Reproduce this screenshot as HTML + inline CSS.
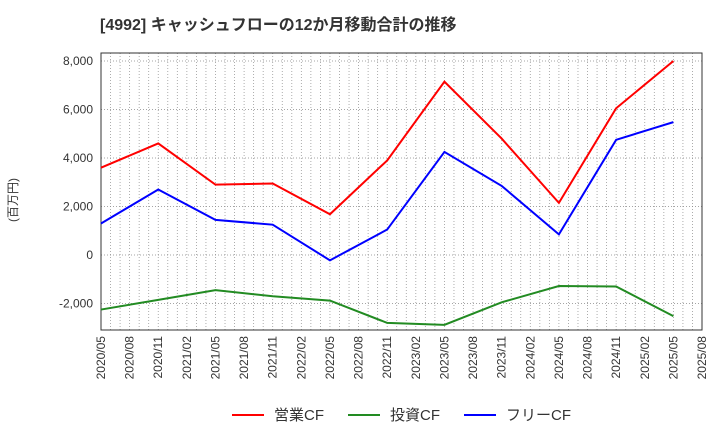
<!DOCTYPE html>
<html><head><meta charset="utf-8"><style>
body{margin:0;background:#fff;font-family:"Liberation Sans","Noto Sans CJK JP",sans-serif}
</style></head><body>
<svg id="c" width="720" height="440" xmlns="http://www.w3.org/2000/svg">
<text x="100" y="30" font-size="16" font-weight="bold" fill="#333">[4992]  キャッシュフローの12か月移動合計の推移</text>
<text transform="translate(17,200) rotate(-90)" font-size="12" fill="#333" text-anchor="middle">(百万円)</text>
<g id="grid"></g><g id="axes"></g><g id="series"></g><g id="legend"></g>
</svg>
<script>
const xTicks=["2020/05","2020/08","2020/11","2021/02","2021/05","2021/08","2021/11","2022/02","2022/05","2022/08","2022/11","2023/02","2023/05","2023/08","2023/11","2024/02","2024/05","2024/08","2024/11","2025/02","2025/05","2025/08"];
const yTicks=[-2000,0,2000,4000,6000,8000];
const periods=["2020/05","2020/11","2021/05","2021/11","2022/05","2022/11","2023/05","2023/11","2024/05","2024/11","2025/05"];
const opCF=[3600,4600,2900,2950,1680,3900,7150,4800,2150,6050,8000];
const invCF=[-2250,-1850,-1450,-1700,-1880,-2800,-2880,-1950,-1280,-1300,-2520];
const freeCF=[1300,2700,1450,1250,-220,1050,4250,2850,850,4750,5480];
const L=101,R=702,T=53,B=330;
const NS="http://www.w3.org/2000/svg";
function mi(p){const [y,m]=p.split("/").map(Number);return (y-2020)*12+(m-5);}
const maxM=mi("2025/08");
function X(p){return L+(R-L)*mi(p)/maxM;}
function XM(m){return L+(R-L)*m/maxM;}
function Y(v){return 255-v*(255-61)/8000;}
function mk(t,a,parent){const e=document.createElementNS(NS,t);for(const k in a)e.setAttribute(k,a[k]);document.getElementById(parent).appendChild(e);return e;}
for(let m=0;m<=maxM;m++){const l=mk("line",{x1:XM(m),x2:XM(m),y1:T,y2:B,stroke:"#999","stroke-width":0.8,"stroke-dasharray":"1,2"},"grid");

}
yTicks.forEach(v=>{const l=mk("line",{x1:L,x2:R,y1:Y(v),y2:Y(v),stroke:"#888","stroke-width":0.8,"stroke-dasharray":"1,2"},"grid");


const t=mk("text",{x:L-8,y:Y(v)+4,"font-size":12,fill:"#333","text-anchor":"end"},"axes");
t.textContent=v.toLocaleString("en-US");

});
const fr=mk("rect",{x:L,y:T,width:R-L,height:B-T,fill:"none",stroke:"#333","stroke-width":1},"axes");


xTicks.forEach(p=>{const x=X(p);const t=mk("text",{transform:`translate(${x+4},${B+6}) rotate(-90)`,"font-size":12,fill:"#333","text-anchor":"end"},"axes");
t.textContent=p;

});
function line(vals,color,name){const pts=vals.map((v,i)=>X(periods[i])+","+Y(v)).join(" ");
const pl=mk("polyline",{points:pts,fill:"none",stroke:color,"stroke-width":2},"series");

}
line(opCF,"#ff0000","operating-cf-line");
line(invCF,"#228b22","investing-cf-line");
line(freeCF,"#0000ff","free-cf-line");
[["営業CF","#ff0000",232],["投資CF","#228b22",348],["フリーCF","#0000ff",464]].forEach(([n,c,x])=>{
const g=mk("g",{},"legend");


const l=document.createElementNS(NS,"line");l.setAttribute("x1",x);l.setAttribute("x2",x+32);l.setAttribute("y1",415);l.setAttribute("y2",415);l.setAttribute("stroke",c);l.setAttribute("stroke-width",2);g.appendChild(l);
const t=document.createElementNS(NS,"text");t.setAttribute("x",x+42);t.setAttribute("y",420);t.setAttribute("font-size",15);t.setAttribute("fill","#333");t.textContent=n;g.appendChild(t);});
</script>
</body></html>
